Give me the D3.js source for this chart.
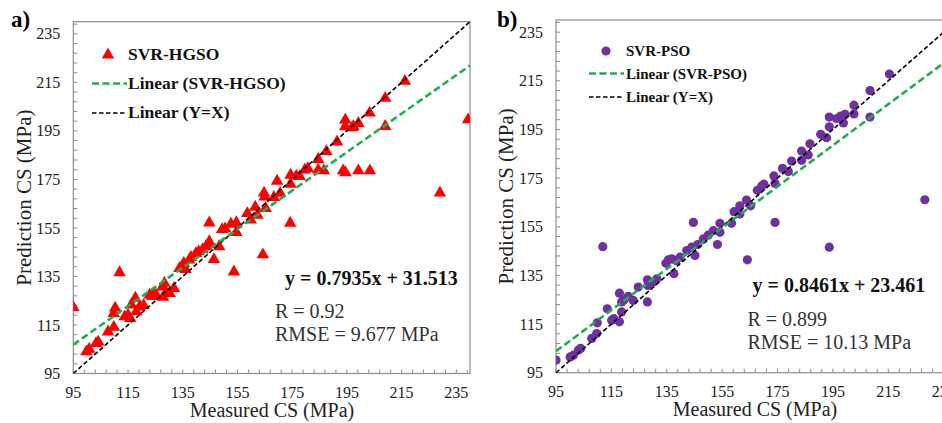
<!DOCTYPE html>
<html>
<head>
<meta charset="utf-8">
<script src="https://cdn.jsdelivr.net/npm/d3@7"></script>
<style>
  html, body { margin: 0; padding: 0; background: #fff; }
  svg { display: block; }
  text { font-family: "Liberation Serif", "DejaVu Serif", serif; }
</style>
</head>
<body>
<svg id="chart" width="942" height="423"></svg>
<script>
// Measured vs predicted compressive strength (MPa)
const hgsoMeasured = [95, 99.8, 100.8, 103.3, 104.1, 107.7, 109.8, 109.8, 110.3, 111.9, 113.8, 115, 115.8, 116.2, 117.7, 118, 119.2, 120.7, 122.9, 123.9, 124.4, 125.3, 127.6, 127.8, 128.3, 128.9, 130.2, 131.8, 133.8, 134.8, 135.4, 136, 137.4, 138, 139.8, 140.8, 142.3, 143.5, 144.4, 144.7, 144.7, 146.4, 148.3, 149.4, 150.5, 152.6, 153.7, 154.6, 154.6, 158.6, 159.8, 161.5, 162.3, 164.3, 164.7, 164.9, 165.3, 168.3, 169.5, 170.6, 174.3, 174.4, 174.4, 176.5, 177.7, 179.6, 180.7, 184.5, 184.5, 186.6, 187.5, 191.4, 193.6, 194.5, 194.4, 194.4, 196.9, 197.4, 199.2, 199.2, 203.3, 203.4, 209, 209, 216.2, 229, 239.3];
const hgsoPredicted = [122.3, 104.0, 105, 107.4, 108, 112.2, 114.1, 119.8, 122, 136.6, 118.4, 119.1, 117.7, 123.3, 126.1, 120.5, 122.5, 123.1, 127.4, 126.8, 128, 127.4, 130.7, 126.5, 132.2, 128.4, 128, 130.1, 138.3, 139.3, 140.4, 137.9, 141.8, 142.9, 144.5, 145.2, 146.1, 147.3, 148.2, 149.4, 157.1, 142, 147.3, 154.4, 154.7, 156.6, 136.9, 157.2, 153.2, 161, 158.3, 163.6, 160.3, 144, 169.4, 167.8, 163.1, 167.6, 174.3, 169.3, 157, 176.8, 173, 176.4, 176.2, 178.9, 179.5, 183.3, 178.9, 178.6, 186.5, 190.5, 178.6, 177.8, 199.5, 196.8, 196.3, 196.8, 198.1, 178.6, 202.4, 178.6, 208.5, 196.9, 215.5, 169.4, 199.6];

const psoMeasured = [95, 100.1, 101.3, 103.1, 103.9, 107.9, 109.7, 109.9, 111.9, 113.5, 115.1, 115.9, 117.9, 117.9, 118.7, 118.7, 119.6, 121.1, 122.9, 124.7, 128, 128, 128.2, 130, 131.4, 134.7, 135.6, 136.8, 137.6, 138.3, 139.8, 142.2, 144, 144.6, 145.2, 146.2, 148.2, 150, 151.8, 153.3, 154.2, 154.2, 158.4, 159.3, 161.4, 161.4, 163.8, 165.3, 164.1, 167.7, 169.3, 170.1, 173.7, 174.1, 174.1, 176.8, 178.9, 180.1, 183.7, 183.7, 186.1, 186.7, 190.6, 192.7, 193.7, 193.7, 193.7, 196.3, 197.8, 198.8, 199.4, 202.6, 202.6, 208.4, 208.4, 215.4, 228.2];
const psoPredicted = [100.2, 101.5, 102.2, 104.3, 105, 109.1, 111.1, 115.5, 146.8, 121.3, 116.6, 117.2, 115.9, 127.7, 124.1, 120, 125, 126.4, 124.7, 130.2, 124.1, 133.2, 130.9, 132.2, 133.6, 140, 141.4, 141.8, 135.7, 141.1, 142.5, 145.2, 146.6, 156.8, 143.2, 147.7, 150, 151.6, 153.4, 147.7, 156.4, 152.7, 156.4, 161.2, 160.2, 163.6, 166, 163.6, 141.4, 170, 171.8, 172.5, 175.9, 172.8, 156.8, 179, 177.7, 182, 186.1, 182.3, 184.5, 189.1, 193, 191.6, 200.1, 196.1, 146.6, 199.5, 200.5, 197.7, 201.2, 205, 201.4, 211, 200.1, 217.8, 166.1];

// Axis settings shared by both panels
const axisDomain = [95, 240];
const majorTicks = [95, 115, 135, 155, 175, 195, 215, 235];
const minorTicks = d3.range(95, 240, 4);

// Fitted trend lines: slope, intercept
const hgsoFit = [0.7935, 31.513];
const psoFit = [0.8461, 23.461];
const identityFit = [1, 0];

const hgsoLegend = ["SVR-HGSO", "Linear (SVR-HGSO)", "Linear (Y=X)"];
const psoLegend = ["SVR-PSO", "Linear (SVR-PSO)", "Linear (Y=X)"];
const hgsoStats = ["y = 0.7935x + 31.513", "R = 0.92", "RMSE = 9.677 MPa"];
const psoStats = ["y = 0.8461x + 23.461", "R = 0.899", "RMSE = 10.13 MPa"];

const FONT = "'Liberation Serif', 'DejaVu Serif', serif";
const svg = d3.select("#chart").attr("font-family", FONT);
const axisGrey = "#8c8c8c";
const fitGreen = "#1fae50";

function txt(sel) {
  return sel.append("text").attr("font-family", FONT);
}

function drawPanel(cfg) {
  const g = svg.append("g");
  const x = d3.scaleLinear().domain(axisDomain).range([cfg.left, cfg.right]);
  const y = d3.scaleLinear().domain(axisDomain).range([cfg.bottom, cfg.top]);

  const clipId = "clip-" + cfg.id;
  svg.append("clipPath").attr("id", clipId)
    .append("rect").attr("x", cfg.left).attr("y", cfg.top)
    .attr("width", cfg.right - cfg.left).attr("height", cfg.bottom - cfg.top);

  // frame
  g.append("rect")
    .attr("x", cfg.left).attr("y", cfg.top)
    .attr("width", cfg.right - cfg.left).attr("height", cfg.bottom - cfg.top)
    .attr("fill", "none").attr("stroke", axisGrey).attr("stroke-width", 1.2);

  // inward ticks
  g.selectAll(".ytick").data(minorTicks).join("line")
    .attr("x1", cfg.left).attr("x2", cfg.left + 4)
    .attr("y1", d => y(d)).attr("y2", d => y(d))
    .attr("stroke", axisGrey).attr("stroke-width", 1);
  g.selectAll(".xtick").data(minorTicks).join("line")
    .attr("x1", d => x(d)).attr("x2", d => x(d))
    .attr("y1", cfg.bottom).attr("y2", cfg.bottom - 4)
    .attr("stroke", axisGrey).attr("stroke-width", 1);

  // tick labels
  g.selectAll(".ylab").data(majorTicks).join("text")
    .attr("font-family", FONT)
    .attr("x", cfg.left - 13).attr("y", d => y(d)).attr("dy", "0.35em")
    .attr("text-anchor", "end").attr("font-size", 16).attr("fill", "#222")
    .text(d => d);
  g.selectAll(".xlab").data(majorTicks).join("text")
    .attr("font-family", FONT)
    .attr("x", d => x(d)).attr("y", cfg.bottom + 24)
    .attr("text-anchor", "middle").attr("font-size", 16).attr("fill", "#222")
    .text(d => d);

  // axis titles
  txt(g)
    .attr("transform", `translate(${cfg.yTitleX},${(cfg.top + cfg.bottom) / 2}) rotate(-90)`)
    .attr("dy", "0.35em").attr("text-anchor", "middle").attr("font-size", 21).attr("fill", "#222")
    .text("Prediction CS (MPa)");
  txt(g)
    .attr("x", cfg.xTitleX).attr("y", cfg.xTitleY)
    .attr("text-anchor", "middle").attr("font-size", 20).attr("fill", "#222")
    .text("Measured CS (MPa)");

  // panel letter
  txt(g)
    .attr("x", cfg.letterX).attr("y", 27)
    .attr("font-size", 23).attr("font-weight", "bold").text(cfg.letter);

  const plot = g.append("g").attr("clip-path", `url(#${clipId})`);

  // points
  const pts = cfg.measured.map((m, i) => [m, cfg.predicted[i]]);
  if (cfg.marker === "triangle") {
    const tri = d3.symbol().type(d3.symbolTriangle).size(68);
    plot.selectAll(".pt").data(pts).join("path")
      .attr("d", tri)
      .attr("transform", d => `translate(${x(d[0])},${y(d[1])})`)
      .attr("fill", "#ff0000");
  } else {
    plot.selectAll(".pt").data(pts).join("circle")
      .attr("cx", d => x(d[0])).attr("cy", d => y(d[1])).attr("r", 4.6)
      .attr("fill", "#7030a0");
  }

  // trend lines across the axis range
  const line = d3.line().x(d => x(d[0])).y(d => y(d[1]));
  const fitPts = f => axisDomain.map(v => [v, f[0] * v + f[1]]);
  plot.append("path").attr("d", line(fitPts(identityFit)))
    .attr("fill", "none").attr("stroke", "#000").attr("stroke-width", 1.6)
    .attr("stroke-dasharray", "4.5,2.5");
  plot.append("path").attr("d", line(fitPts(cfg.fit)))
    .attr("fill", "none").attr("stroke", fitGreen).attr("stroke-width", 2.6)
    .attr("stroke-dasharray", "7,3.5");

  // legend
  const L = cfg.legend;
  if (cfg.marker === "triangle") {
    g.append("path").attr("d", d3.symbol().type(d3.symbolTriangle).size(68)())
      .attr("transform", `translate(${L.markX},${L.rows[0] - 5})`).attr("fill", "#ff0000");
  } else {
    g.append("circle").attr("cx", L.markX).attr("cy", L.rows[0] - 5).attr("r", 4.6).attr("fill", "#7030a0");
  }
  g.append("line").attr("x1", L.lineX0).attr("x2", L.lineX1)
    .attr("y1", L.rows[1] - 5).attr("y2", L.rows[1] - 5)
    .attr("stroke", fitGreen).attr("stroke-width", 2.6).attr("stroke-dasharray", "7,3.5");
  g.append("line").attr("x1", L.lineX0).attr("x2", L.lineX1)
    .attr("y1", L.rows[2] - 5).attr("y2", L.rows[2] - 5)
    .attr("stroke", "#000").attr("stroke-width", 1.6).attr("stroke-dasharray", "4.5,2.5");
  cfg.legendText.forEach((t, i) => {
    txt(g).attr("x", L.textX).attr("y", L.rows[i])
      .attr("font-size", L.size).attr("font-weight", "bold").attr("fill", "#111").text(t);
  });

  // fit statistics
  const S = cfg.statsPos;
  txt(g).attr("x", S.eqX).attr("y", S.eqY)
    .attr("font-size", 20).attr("font-weight", "bold").attr("fill", "#111").text(cfg.stats[0]);
  txt(g).attr("x", S.rX).attr("y", S.rY)
    .attr("font-size", 20).attr("fill", "#333").text(cfg.stats[1]);
  txt(g).attr("x", S.rX).attr("y", S.rY + 22.5)
    .attr("font-size", 20).attr("fill", "#333").text(cfg.stats[2]);
}

drawPanel({
  id: "a", letter: "a)", letterX: 11,
  left: 73.3, right: 470, top: 21.7, bottom: 373.5,
  yTitleX: 23.5, xTitleX: 272, xTitleY: 417,
  measured: hgsoMeasured, predicted: hgsoPredicted, marker: "triangle",
  fit: hgsoFit,
  legend: { markX: 108, lineX0: 92, lineX1: 127, textX: 128, rows: [60, 88.5, 118], size: 17.5 },
  legendText: hgsoLegend,
  stats: hgsoStats,
  statsPos: { eqX: 285, eqY: 285, rX: 275, rY: 318 }
});

drawPanel({
  id: "b", letter: "b)", letterX: 497,
  left: 556, right: 957.5, top: 20, bottom: 372.7,
  yTitleX: 505.5, xTitleX: 755, xTitleY: 416,
  measured: psoMeasured, predicted: psoPredicted, marker: "circle",
  fit: psoFit,
  legend: { markX: 606, lineX0: 589, lineX1: 624, textX: 626, rows: [56, 78.5, 102], size: 15 },
  legendText: psoLegend,
  stats: psoStats,
  statsPos: { eqX: 752.5, eqY: 291.5, rX: 747.5, rY: 326 }
});
</script>
</body>
</html>
